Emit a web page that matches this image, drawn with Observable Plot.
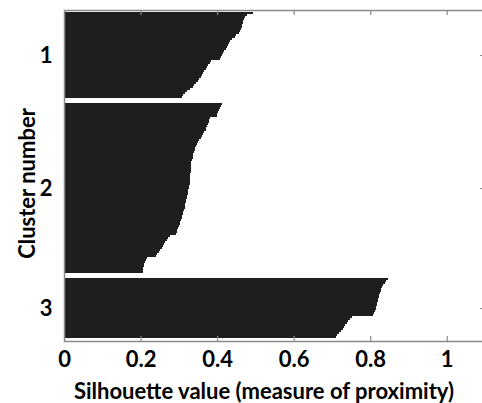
<!DOCTYPE html>
<html><head><meta charset="utf-8">
<script src="https://cdn.jsdelivr.net/npm/d3@7"></script>
<script src="https://cdn.jsdelivr.net/npm/@observablehq/plot@0.6"></script>
<style>html,body{margin:0;padding:0;background:#fff;overflow:hidden}</style>
</head><body><div id="chart"></div>
<script>
const clusters = ["1", "2", "3"];
const cluster1 = [0.494, 0.478, 0.472, 0.470, 0.468, 0.467, 0.466, 0.464, 0.462, 0.460,
  0.456, 0.450, 0.447, 0.440, 0.435, 0.432, 0.428, 0.426, 0.422, 0.419,
  0.416, 0.413, 0.410, 0.407, 0.383, 0.381, 0.377, 0.373, 0.370, 0.366,
  0.363, 0.360, 0.357, 0.353, 0.350, 0.345, 0.340, 0.337, 0.330, 0.322,
  0.316, 0.312, 0.309];
const cluster2 = [0.414, 0.411, 0.408, 0.405, 0.403, 0.401, 0.400, 0.382, 0.380, 0.378,
  0.376, 0.374, 0.372, 0.370, 0.365, 0.363, 0.361, 0.358, 0.354, 0.351,
  0.348, 0.346, 0.343, 0.341, 0.339, 0.338, 0.337, 0.336, 0.334, 0.333,
  0.333, 0.332, 0.332, 0.331, 0.331, 0.330, 0.330, 0.329, 0.329, 0.328,
  0.328, 0.327, 0.326, 0.325, 0.324, 0.323, 0.322, 0.321, 0.320, 0.319,
  0.317, 0.316, 0.315, 0.313, 0.312, 0.311, 0.309, 0.308, 0.306, 0.304,
  0.302, 0.300, 0.298, 0.296, 0.294, 0.292, 0.278, 0.272, 0.268, 0.265,
  0.262, 0.259, 0.256, 0.251, 0.248, 0.244, 0.240, 0.216, 0.214, 0.212,
  0.210, 0.208, 0.207, 0.207, 0.207];
const cluster3 = [0.846, 0.842, 0.838, 0.834, 0.831, 0.829, 0.827, 0.826, 0.824, 0.823,
  0.821, 0.820, 0.818, 0.817, 0.815, 0.814, 0.812, 0.810, 0.808, 0.752,
  0.747, 0.743, 0.739, 0.735, 0.731, 0.728, 0.725, 0.718, 0.712, 0.710];
const xTicks = [0, 0.2, 0.4, 0.6, 0.8, 1];
const xTickLabels = ["0", "0.2", "0.4", "0.6", "0.8", "1"];
const xLabel = "Silhouette value (measure of proximity)";
const yLabel = "Cluster number";

// layout: one unit per observation, empty units between clusters
const gap = 2.5;
const rows = [];
const centers = [];
let pos = 0;
[cluster1, cluster2, cluster3].forEach((vals, k) => {
  const start = pos;
  vals.forEach((v, i) => rows.push({cluster: clusters[k], s: v, y1: pos + i, y2: pos + i + 1}));
  pos += vals.length;
  centers.push({cluster: clusters[k], y: (start + pos) / 2});
  pos += gap;
});
const yEnd = pos - gap + 1.5;
const axisGray = "#8a8a8a";

const chart = Plot.plot({
  width: 482, height: 403,
  marginTop: 10, marginBottom: 62, marginLeft: 64, marginRight: -3,
  style: {fontFamily: "Lato, sans-serif", fontWeight: "bold", fontSize: "22px", color: "#000", background: "#fff", overflow: "hidden"},
  x: {domain: [0, 1.1]},
  y: {domain: [-1, yEnd], reverse: true},
  marks: [
    Plot.rect(rows, {x1: () => 0, x2: "s", y1: "y1", y2: "y2", fill: "#1e1e1e", shapeRendering: "crispEdges"}),
    Plot.frame({stroke: axisGray, strokeWidth: 1.5}),
    Plot.tickX(xTicks.slice(1), {x: d => d, insetTop: 326, stroke: axisGray, strokeWidth: 1.2}),
    Plot.tickX(xTicks.slice(1), {x: d => d, insetBottom: 326, stroke: axisGray, strokeWidth: 1.2}),
    Plot.tickY(centers, {y: "y", insetLeft: 416, stroke: axisGray, strokeWidth: 1.2}),
    Plot.axisX(xTicks, {tickSize: 0, tickPadding: 10, tickFormat: d => xTickLabels[xTicks.indexOf(d)], label: null}),
    Plot.axisY(centers.map(c => c.y), {tickSize: 0, tickPadding: 12, tickFormat: d => centers.find(c => c.y === d).cluster, label: null}),
    Plot.text([xLabel], {frameAnchor: "bottom", dx: -11, dy: 57, fontSize: 22}),
    Plot.text([yLabel], {frameAnchor: "left", textAnchor: "middle", rotate: -90, dx: -37, dy: 7.5, fontSize: 22})
  ]
});
document.getElementById("chart").appendChild(chart);
</script>
</body></html>
